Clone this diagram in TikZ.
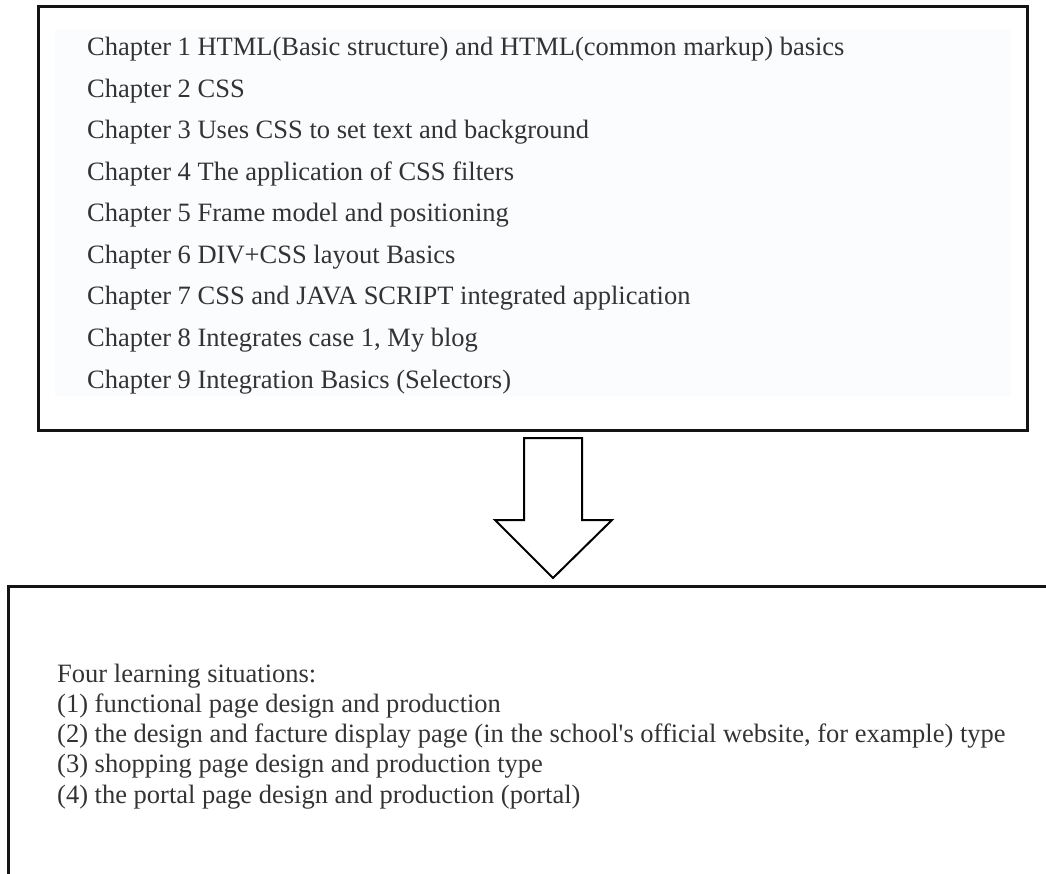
\documentclass[tikz,border=0pt]{standalone}
\usepackage{fontspec}
\setmainfont{Liberation Serif}
\newfontfamily\tnr{Liberation Serif}
\begin{document}
\begin{tikzpicture}[x=1pt,y=-1pt,
  frame/.style={draw=black!92,line width=3pt,inner sep=0pt,outer sep=0pt},
  chap/.style={anchor=base west,inner sep=0pt,text=black!80,font=\tnr\fontsize{26.5}{31}\selectfont},
  sit/.style={anchor=base west,inner sep=0pt,text=black!80,font=\tnr\fontsize{26.5}{31}\selectfont},
  bigarrow/.style={draw=black,line width=2pt,fill=white,line join=miter}]
\useasboundingbox (0,0) rectangle (1046,874);
\clip (0,0) rectangle (1046,874);
% top box
\fill[fill={rgb,255:red,251;green,252;blue,254}] (55,30) rectangle (1011,396);
\node[frame,minimum width=989pt,minimum height=423pt] (top) at (532.5,218.5) {};
\node[chap] (c1) at (87,56) {Chapter 1 HTML(Basic structure) and HTML(common markup) basics};
\node[chap] (c2) at (87,97.5) {Chapter 2 CSS};
\node[chap] (c3) at (87,139) {Chapter 3 Uses CSS to set text and background};
\node[chap] (c4) at (87,180.5) {Chapter 4 The application of CSS filters};
\node[chap] (c5) at (87,222) {Chapter 5 Frame model and positioning};
\node[chap] (c6) at (87,263.5) {Chapter 6 DIV+CSS layout Basics};
\node[chap] (c7) at (87,305) {Chapter 7 CSS and JAVA SCRIPT integrated application};
\node[chap] (c8) at (87,346.5) {Chapter 8 Integrates case 1, My blog};
\node[chap] (c9) at (87,388) {Chapter 9 Integration Basics (Selectors)};
% bottom box
\node[frame,minimum width=1080pt,minimum height=400pt] (bottom) at (548,786) {};
\node[sit] (s0) at (57,682) {Four learning situations:};
\node[sit] (s1) at (57,712.3) {(1) functional page design and production};
\node[sit] (s2) at (57,742.6) {(2) the design and facture display page (in the school's official website, for example) type};
\node[sit] (s3) at (57,772.9) {(3) shopping page design and production type};
\node[sit] (s4) at (57,803.2) {(4) the portal page design and production (portal)};
% hollow arrow
\coordinate (a1) at (524,438);
\coordinate (a2) at (582,438);
\coordinate (a3) at (582,520);
\coordinate (a4) at (612,520);
\coordinate (tip) at (553,578);
\coordinate (a6) at (495,520);
\coordinate (a7) at (524,520);
\draw[bigarrow] (a1) -- (a2) -- (a3) -- (a4) -- (tip) -- (a6) -- (a7) -- cycle;
\end{tikzpicture}
\end{document}
